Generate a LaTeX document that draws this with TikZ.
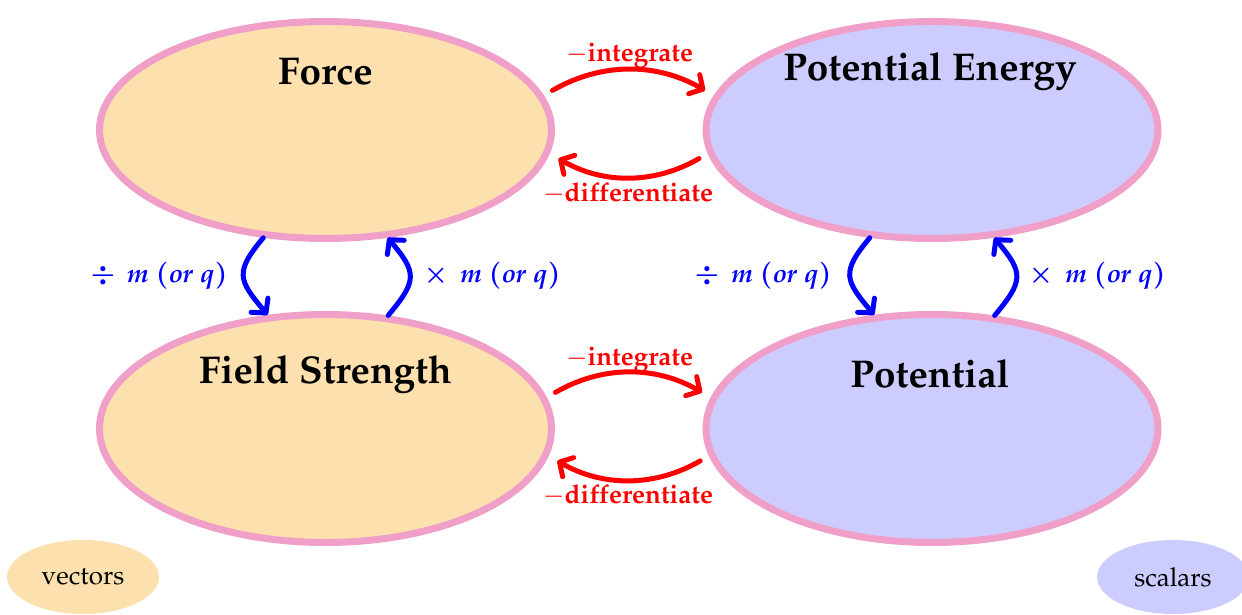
\documentclass[tikz,border=0pt]{standalone}
\usepackage[T1]{fontenc}
\usepackage{mathpazo}
\usetikzlibrary{arrows.meta,shapes.geometric}
\definecolor{vecfill}{RGB}{252,224,174}
\definecolor{scafill}{RGB}{204,204,255}
\definecolor{rimpink}{RGB}{240,160,200}
\tikzset{
 big/.style={ellipse, draw=rimpink, line width=7pt, minimum width=452pt, inner sep=0pt},
 vec/.style={big, fill=vecfill},
 sca/.style={big, fill=scafill},
 title/.style={font=\fontsize{38.7}{44}\selectfont\bfseries, inner sep=0pt},
 tip/.style={-{Straight Barb[length=10pt,width=22pt,round]}},
 redarr/.style={draw=red, line width=5pt, line cap=round, tip, shorten <=10pt, shorten >=10pt, bend left=30},
 bluearr/.style={draw=blue, line width=5pt, line cap=round, tip, looseness=1.5},
 redlab/.style={text=red, font=\fontsize{26}{30}\selectfont\bfseries, anchor=base, inner sep=0pt},
 bluelab/.style={text=blue, font=\fontsize{26}{30}\selectfont\boldmath, anchor=base, inner sep=0pt},
 legend/.style={ellipse, minimum width=152pt, minimum height=74pt, inner sep=0pt, font=\fontsize{26}{30}\selectfont},
}
\begin{document}
\begin{tikzpicture}[x=1pt,y=1pt]
\useasboundingbox (0,0) rectangle (1242,614);
\node[vec, minimum height=217pt, label={[title,yshift=58.5pt]center:Force}] (force) at (325.5,484) {};
\node[sca, minimum height=217pt, label={[title,yshift=58.6pt,xshift=-2pt]center:Potential Energy}] (pe) at (932,484) {};
\node[vec, minimum height=228pt, label={[title,yshift=54.1pt]center:Field Strength}] (fs) at (325.5,185.5) {};
\node[sca, minimum height=228pt, label={[title,yshift=54.5pt,xshift=-2pt]center:Potential}] (pot) at (932,185.5) {};

\draw[redarr] (force.9) to (pe.171);
\draw[redarr] (pe.186) to (force.-6);
\draw[redarr] (fs.8) to (pot.172);
\draw[redarr] (pot.187) to (fs.-7);

\node[redlab] (int1) at (629.5,552) {$-$integrate};
\node[redlab] (dif1) at (628,412) {$-$differentiate};
\node[redlab] (int2) at (629.5,249) {$-$integrate};
\node[redlab] (dif2) at (628,111) {$-$differentiate};

\draw[bluearr] (force.240.7) to[out=230,in=130] (fs.117.6);
\draw[bluearr] (fs.61.5) to[out=50,in=-50] (force.-60.3);
\draw[bluearr] (pe.240.7) to[out=230,in=130] (pot.117.6);
\draw[bluearr] (pot.61.5) to[out=50,in=-50] (pe.-60.3);

\node[bluelab] (dl1) at (159,331) {$\div\,\; m\ (or\ q)$};
\node[bluelab] (ml1) at (492,331) {$\times\,\; m\ (or\ q)$};
\node[bluelab] (dl2) at (763,331) {$\div\,\; m\ (or\ q)$};
\node[bluelab] (ml2) at (1097,331) {$\times\,\; m\ (or\ q)$};

\node[legend, fill=vecfill] (vectors) at (83,37) {vectors};
\node[legend, fill=scafill] (scalars) at (1173,37) {scalars};
\end{tikzpicture}
\end{document}
